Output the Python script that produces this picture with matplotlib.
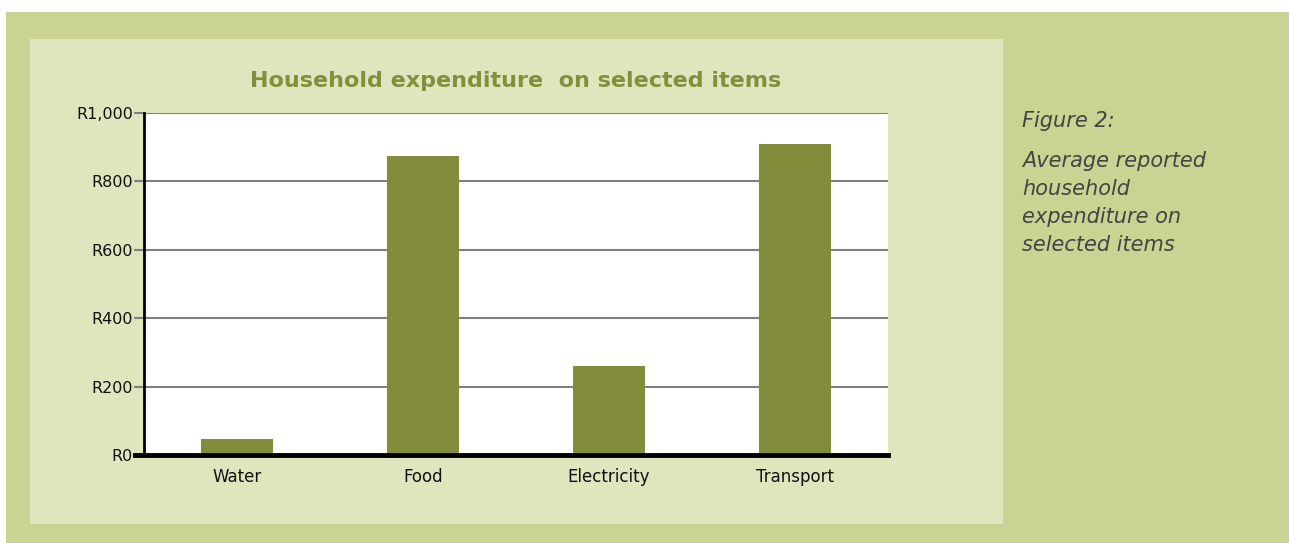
import matplotlib.pyplot as plt
from matplotlib.patches import Rectangle
from matplotlib.ticker import FuncFormatter

categories = ["Water", "Food", "Electricity", "Transport"]
expenditure = [47, 875, 260, 910]
y_ticks = [0, 200, 400, 600, 800, 1000]

OUTER = "#cbd393"
INNER = "#dfe5bd"
BAR = "#828c3a"
TITLE = "#848f3b"

W, H = 1289, 543
fig = plt.figure(figsize=(W / 100, H / 100), dpi=100)
fig.patch.set_facecolor("white")

# background panels (pixel coords -> figure fraction)
def px(x0, y0, x1, y1):
    return (x0 / W, 1 - y1 / H, (x1 - x0) / W, (y1 - y0) / H)

for (x0, y0, x1, y1), c in [((6, 12, W, H), OUTER), ((30, 39, 1003, 524), INNER)]:
    l, b, w, h = px(x0, y0, x1, y1)
    fig.patches.append(Rectangle((l, b), w, h, transform=fig.transFigure,
                                 facecolor=c, edgecolor="none", zorder=-5))

ax = fig.add_axes(px(144, 113, 888, 455))
ax.set_zorder(2)
ax.set_facecolor("white")
ax.bar(range(len(categories)), expenditure, width=0.39, color=BAR, zorder=3)
ax.set_xlim(-0.5, len(categories) - 0.5)
ax.set_ylim(0, 1000)
ax.set_yticks(y_ticks)
ax.yaxis.set_major_formatter(FuncFormatter(lambda v, p: f"R{v:,.0f}"))
ax.set_xticks(range(len(categories)))
ax.set_xticklabels(categories)
ax.grid(axis="y", color="#808080", linewidth=1.5, zorder=1)
ax.set_axisbelow(True)
ax.tick_params(axis="y", length=7, width=1.5, color="#808080", labelsize=11.5, pad=1)
ax.tick_params(axis="x", length=0, labelsize=12, pad=9)
for lab in ax.get_xticklabels() + ax.get_yticklabels():
    lab.set_fontfamily("DejaVu Sans")
    lab.set_color("#111111")
for s in ["top", "right"]:
    ax.spines[s].set_visible(False)
ax.spines["left"].set_linewidth(2)
ax.spines["left"].set_color("black")
ax.spines["bottom"].set_visible(False)
ax.axhline(0, xmin=-0.012, xmax=1, color="black", linewidth=3.5, clip_on=False, zorder=4)

fig.text(516 / W, 1 - 81 / H, "Household expenditure  on selected items",
         ha="center", va="center", fontsize=16, fontweight="bold",
         color=TITLE, family="DejaVu Sans")

fig.text(1022 / W, 1 - 121 / H, "Figure 2:", ha="left", va="center",
         fontsize=15, style="italic", color="#444444", family="DejaVu Sans")
fig.text(1022 / W, 1 - 151 / H,
         "Average reported\nhousehold\nexpenditure on\nselected items",
         ha="left", va="top", fontsize=15, style="italic", color="#444444",
         family="DejaVu Sans", linespacing=1.5)

fig.savefig("out.png", dpi=100)
